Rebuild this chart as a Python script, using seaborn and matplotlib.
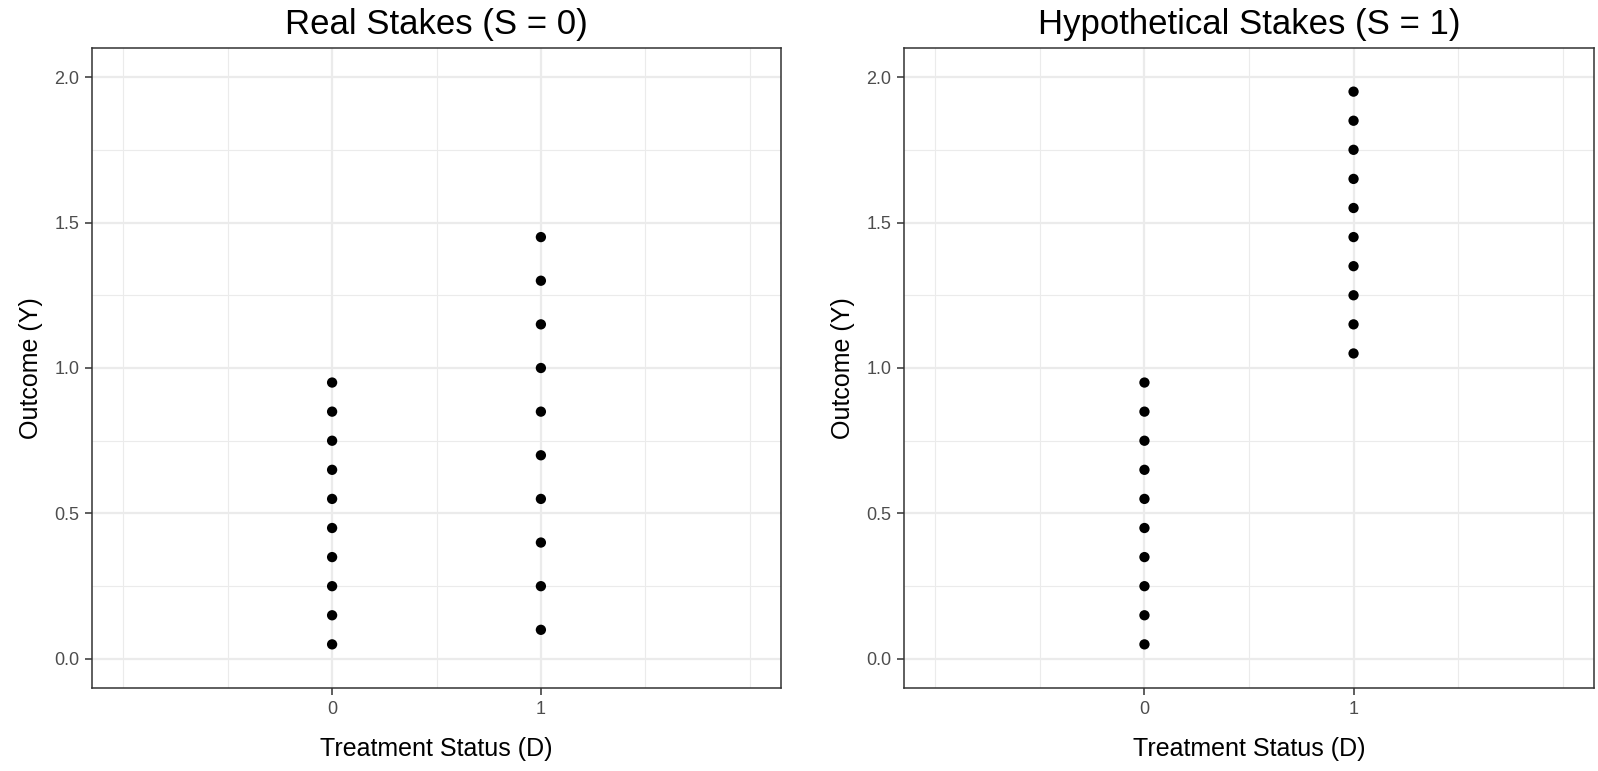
import pandas as pd
import matplotlib
matplotlib.use('Agg')
import matplotlib.pyplot as plt
import seaborn as sns
from matplotlib.ticker import FixedLocator

# --- Data --- #
real_d0 = [0.05, 0.15, 0.25, 0.35, 0.45, 0.55, 0.65, 0.75, 0.85, 0.95]
real_d1 = [0.10, 0.25, 0.40, 0.55, 0.70, 0.85, 1.00, 1.15, 1.30, 1.45]
hypo_d0 = [0.05, 0.15, 0.25, 0.35, 0.45, 0.55, 0.65, 0.75, 0.85, 0.95]
hypo_d1 = [1.05, 1.15, 1.25, 1.35, 1.45, 1.55, 1.65, 1.75, 1.85, 1.95]

titles = ['Real Stakes (S = 0)', 'Hypothetical Stakes (S = 1)']
x_ticks = [0, 1]
y_ticks = [0.0, 0.5, 1.0, 1.5, 2.0]

def make_df(d0, d1):
    return pd.DataFrame({
        'D': [0] * len(d0) + [1] * len(d1),
        'Y': d0 + d1,
    })

panels = [make_df(real_d0, real_d1), make_df(hypo_d0, hypo_d1)]

# --- Style --- #
sns.set_style('white')
plt.rcParams['font.family'] = ['Liberation Sans', 'DejaVu Sans']

fig = plt.figure(figsize=(15.98, 7.71), dpi=100)
axes = [fig.add_axes([92 / 1598, 83 / 771, 689 / 1598, 640 / 771]),
        fig.add_axes([904 / 1598, 83 / 771, 690 / 1598, 640 / 771])]

for ax, df, title in zip(axes, panels, titles):
    sns.scatterplot(x='D', y='Y', data=df, ax=ax, color='black', s=55,
                    edgecolor='none', zorder=3)
    ax.set_xlim(-1.15, 2.15)
    ax.set_ylim(-0.1, 2.1)
    ax.xaxis.set_major_locator(FixedLocator(x_ticks))
    ax.xaxis.set_minor_locator(FixedLocator([-1, -0.5, 0.5, 1.5, 2]))
    ax.yaxis.set_major_locator(FixedLocator(y_ticks))
    ax.yaxis.set_minor_locator(FixedLocator([0.25, 0.75, 1.25, 1.75]))
    ax.set_xticklabels([str(t) for t in x_ticks])
    ax.set_yticklabels([f'{t:.1f}' for t in y_ticks])
    ax.grid(which='major', color='#ebebeb', linewidth=1.6, zorder=0)
    ax.grid(which='minor', color='#ebebeb', linewidth=0.8, zorder=0)
    ax.set_axisbelow(True)
    ax.tick_params(which='major', direction='out', length=5, width=1.1,
                   bottom=True, left=True,
                   color='#333333', labelsize=13, labelcolor='#4d4d4d', pad=4)
    ax.tick_params(which='minor', length=0)
    for sp in ax.spines.values():
        sp.set_visible(True)
        sp.set_color('#333333')
        sp.set_linewidth(1.1)
    ax.set_xlabel('Treatment Status (D)', fontsize=18, labelpad=14, color='black')
    ax.set_ylabel('Outcome (Y)', fontsize=18, labelpad=8, color='black')
    ax.set_title(title, fontsize=25, pad=10, color='black')

plt.savefig('out.png', dpi=100)
plt.close()
